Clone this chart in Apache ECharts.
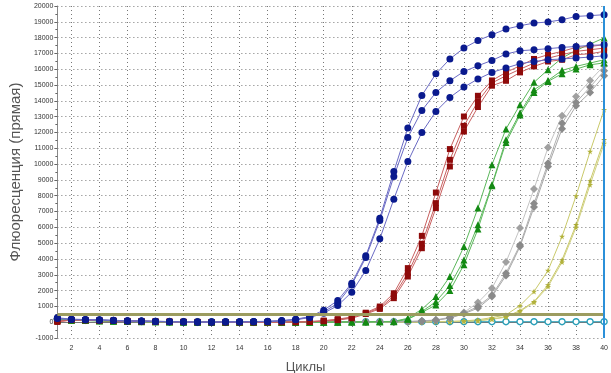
<!DOCTYPE html>
<html>
<head>
<meta charset="utf-8">
<script src="https://cdn.jsdelivr.net/npm/echarts@6/dist/echarts.min.js"></script>
<style>html,body{margin:0;padding:0;background:#fff}#c{width:611px;height:373px}</style>
</head>
<body>
<div id="c"></div>
<script>
// ---- data ----
const cycles = Array.from({length: 40}, (_, i) => String(i + 1));
const yTicks = { min: -1000, max: 20000, step: 1000 };
const threshold = 530;
const xTitle = 'Циклы';
const yTitle = 'Флюоресценция (прямая)';

const blue1 = [280,190,170,150,120,90,80,60,40,30,20,20,20,30,40,60,100,190,350,760,1370,2470,4200,6580,9530,12280,14340,15710,16650,17340,17820,18180,18540,18750,18920,18990,19130,19340,19390,19450];
const blue2 = [250,180,160,140,110,80,70,50,30,20,10,10,20,20,30,50,90,170,320,650,1200,2360,4090,6430,9220,11680,13390,14530,15270,15860,16220,16560,16960,17170,17230,17300,17380,17440,17510,17550];
const blue3 = [230,170,150,130,100,70,60,40,20,10,0,0,10,10,20,40,80,150,290,570,1050,1900,3270,5270,7780,10160,12000,13330,14220,14870,15380,15800,16080,16350,16490,16600,16650,16710,16770,16850];

const red1 = [60,150,140,120,100,80,70,50,40,30,20,10,0,0,0,0,10,20,40,100,190,330,600,990,1830,3420,5460,8200,10950,13010,14320,15290,15800,16220,16650,16920,17130,17380,17440,17550];
const red2 = [40,140,130,110,90,70,60,40,30,20,10,0,0,0,0,0,0,10,30,80,160,290,570,900,1660,3100,4960,7530,10270,12420,13960,15130,15590,16000,16390,16700,16920,17130,17230,17340];
const red3 = [20,130,120,100,80,60,50,30,20,10,0,0,0,0,0,0,0,0,20,60,130,250,520,840,1520,2890,4680,7220,9850,12060,13610,14960,15270,15800,16180,16490,16600,16920,16980,17130];

const green1 = [160,140,120,100,80,60,50,40,30,20,10,0,0,0,0,0,0,0,0,10,10,20,30,40,50,250,820,1620,2890,4780,7220,9960,12220,13750,15170,15970,16710,17190,17590,17980];
const green2 = [150,130,110,90,70,50,40,30,20,10,0,0,0,0,0,0,0,0,0,0,10,10,20,30,40,200,670,1300,2320,3940,6160,8690,11540,13230,14700,15290,15930,16180,16390,16600];
const green3 = [140,120,100,80,60,40,30,20,10,0,0,0,0,0,0,0,0,0,0,0,0,10,10,20,30,180,620,1090,2000,3630,5890,8630,11370,13100,14530,15230,15720,16010,16280,16400];

const gray1 = [200,170,150,130,110,90,70,50,40,30,20,20,20,20,20,20,20,20,20,20,20,30,30,40,40,50,80,150,310,610,1240,2150,3800,5950,8420,11050,13060,14280,15290,16220];
const gray2 = [190,160,140,120,100,80,60,40,30,20,10,10,10,10,10,10,10,10,10,10,10,20,20,30,30,40,70,130,280,560,1000,1700,3100,4890,7500,10060,12590,13900,14870,15900];
const gray3 = [180,150,130,110,90,70,50,30,20,10,0,0,0,0,0,0,0,0,0,0,0,10,10,20,20,30,60,120,260,530,890,1620,2950,4780,7280,9850,12230,13690,14530,15590];

const olive1 = [170,150,130,110,90,70,50,40,30,20,10,10,10,10,10,10,10,10,10,10,10,10,10,20,20,20,30,40,50,80,150,290,460,1050,1940,3270,5420,7990,10800,13440];
const olive2 = [160,140,120,100,80,60,40,30,20,10,0,0,0,0,0,0,0,0,0,0,0,0,0,10,10,10,20,30,40,60,100,200,350,730,1300,2360,3940,6160,8940,11540];
const olive3 = [150,130,110,90,70,50,30,20,10,0,0,0,0,0,0,0,0,0,0,0,0,0,0,0,0,10,10,20,30,50,90,180,320,680,1250,2250,3800,6000,8690,11300];

const ntc = [180,150,130,110,90,70,60,50,40,30,30,30,30,30,30,30,30,30,30,30,30,30,30,30,30,30,30,30,30,30,30,30,30,30,30,30,30,30,30,30];

// ---- styles ----
const star = 'path://M50,0 L61,35 L98,35 L68,57 L79,91 L50,70 L21,91 L32,57 L2,35 L39,35 Z';
function mk(data, symbol, size, markColor, lineColor, hollow) {
  return {
    type: 'line', data: data, symbol: symbol, symbolSize: size, showSymbol: true,
    lineStyle: { color: lineColor, width: 1 },
    itemStyle: hollow ? { color: '#ffffff', borderColor: markColor, borderWidth: 1.4 } : { color: markColor, borderWidth: 0 },
    emphasis: { disabled: true }, animation: false, z: 2
  };
}

const series = [
  mk(ntc, 'circle', 6, '#2a9fb8', '#2a9fb8', true),
  mk(olive1, star, 6, '#b3b33c', '#c9c96a'),
  mk(olive2, star, 6, '#a8a832', '#c9c96a'),
  mk(olive3, star, 6, '#b3b33c', '#d0d080'),
  mk(gray1, 'diamond', 8, '#a0a0a0', '#c4c4c4'),
  mk(gray2, 'diamond', 8, '#8a8a8a', '#b0b0b0'),
  mk(gray3, 'diamond', 8, '#8a8a8a', '#a8a8a8'),
  mk(green1, 'triangle', 7, '#138a13', '#5cb85c'),
  mk(green2, 'triangle', 7, '#138a13', '#5cb85c'),
  mk(green3, 'triangle', 7, '#138a13', '#5cb85c'),
  mk(red1, 'rect', 6, '#8e0a0a', '#c86060'),
  mk(red2, 'rect', 6, '#8e0a0a', '#c86060'),
  mk(red3, 'rect', 6, '#8e0a0a', '#c86060'),
  mk(blue1, 'circle', 7, '#0a1a8e', '#6a6ac4'),
  mk(blue2, 'circle', 7, '#0a1a8e', '#6a6ac4'),
  mk(blue3, 'circle', 7, '#0a1a8e', '#6a6ac4')
];
// threshold and cursor lines
series[0].markLine = {
  silent: true, symbol: 'none', label: { show: false }, animation: false,
  data: [
    { yAxis: threshold, lineStyle: { color: '#9c9c60', width: 3, type: 'solid' } },
    { xAxis: cycles[cycles.length - 1], lineStyle: { color: '#2b90d9', width: 2, type: 'solid' } }
  ]
};

const chart = echarts.init(document.getElementById('c'), null, { renderer: 'canvas' });
chart.setOption({
  animation: false,
  backgroundColor: '#ffffff',
  title: {
    text: xTitle, left: 'center', top: 356,
    textStyle: { fontFamily: 'Liberation Sans', fontSize: 13, fontWeight: 'normal', color: '#555' }
  },
  grid: { left: 43, right: 6, top: 6, bottom: 35, containLabel: false },
  xAxis: {
    type: 'category', data: cycles, boundaryGap: false,
    axisLine: { show: true, lineStyle: { color: '#777', width: 1 } },
    axisTick: { show: true, inside: true, length: 3, interval: 0, lineStyle: { color: '#555' } },
    axisLabel: {
      interval: (i, v) => Number(v) % 2 === 0,
      fontFamily: 'Liberation Sans', fontSize: 7, color: '#333', margin: 7
    },
    splitLine: {
      show: true, interval: (i, v) => Number(v) % 2 === 0 && Number(v) !== 40,
      lineStyle: { color: '#777', type: [1, 3], width: 1 }
    }
  },
  yAxis: {
    type: 'value', min: yTicks.min, max: yTicks.max, interval: yTicks.step,
    name: yTitle, nameLocation: 'middle', nameGap: 33, nameRotate: 90,
    nameTextStyle: { fontFamily: 'Liberation Sans', fontSize: 15, color: '#555' },
    axisLine: { show: true, lineStyle: { color: '#888' } },
    axisTick: { show: true, length: 3, lineStyle: { color: '#666' } },
    minorTick: { show: true, splitNumber: 2, length: 2, lineStyle: { color: '#666' } },
    axisLabel: { fontFamily: 'Liberation Sans', fontSize: 7, color: '#333', margin: 4, formatter: v => String(v) },
    splitLine: { show: true, lineStyle: { color: '#777', type: [1, 3], width: 1 } }
  },
  series: series
});
</script>
</body>
</html>
